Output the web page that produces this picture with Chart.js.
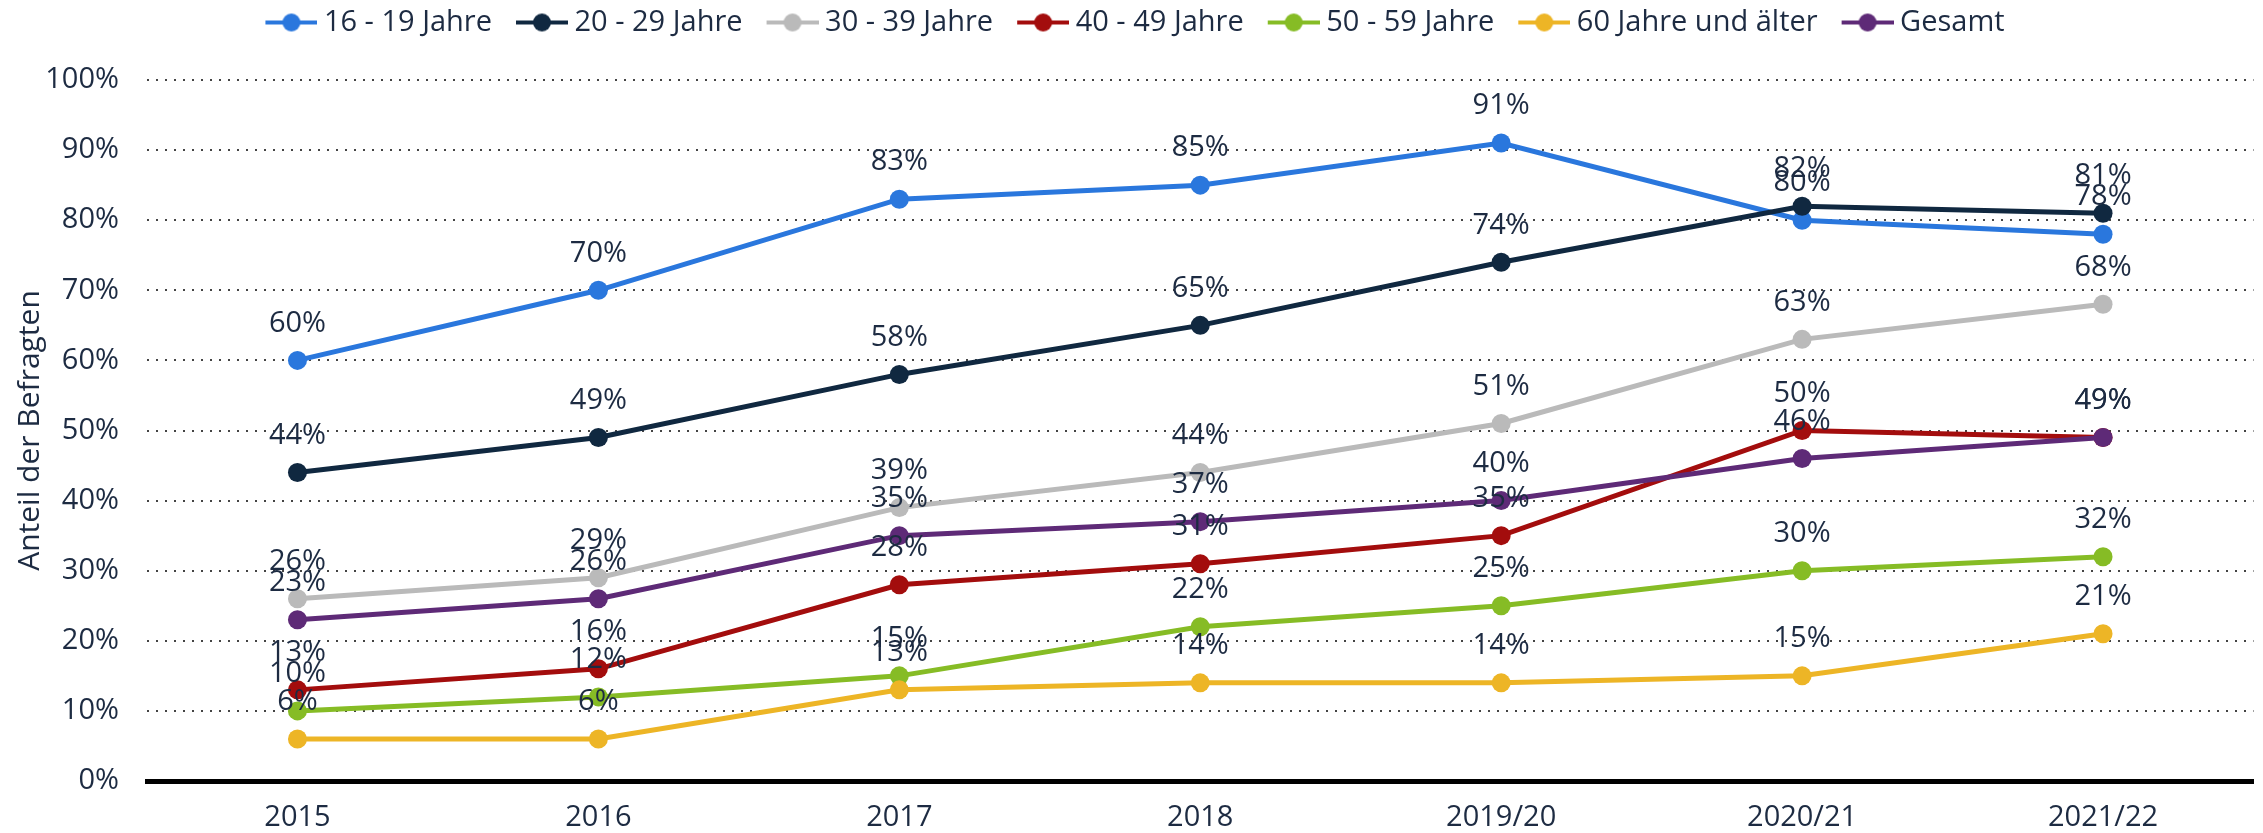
<!DOCTYPE html>
<html lang="de">
<head>
<meta charset="utf-8">
<title>Anteil der Befragten nach Altersgruppe</title>
<script src="https://cdn.jsdelivr.net/npm/chart.js@4/dist/chart.umd.min.js"></script>
<style>
  html, body { margin: 0; padding: 0; background: #fff; }
  #wrap { width: 2263px; height: 833px; }
</style>
</head>
<body>
<div id="wrap"><canvas id="chart" width="2263" height="833"></canvas></div>
<script>
/* Anteil der Befragten nach Altersgruppe, 2015 – 2021/22 */

var CATEGORIES = ['2015', '2016', '2017', '2018', '2019/20', '2020/21', '2021/22'];

var SERIES_NAMES = ['16 - 19 Jahre', '20 - 29 Jahre', '30 - 39 Jahre', '40 - 49 Jahre',
                    '50 - 59 Jahre', '60 Jahre und älter', 'Gesamt'];

var AGE_16_19 = [60, 70, 83, 85, 91, 80, 78];
var AGE_20_29 = [44, 49, 58, 65, 74, 82, 81];
var AGE_30_39 = [26, 29, 39, 44, 51, 63, 68];
var AGE_40_49 = [13, 16, 28, 31, 35, 50, 49];
var AGE_50_59 = [10, 12, 15, 22, 25, 30, 32];
var AGE_60_PLUS = [6, 6, 13, 14, 14, 15, 21];
var TOTAL = [23, 26, 35, 37, 40, 46, 49];

var Y_TICKS = ['0%', '10%', '20%', '30%', '40%', '50%', '60%', '70%', '80%', '90%', '100%'];

(function () {
  'use strict';

  var TEXT = '#1d2b42';
  var FONT = '"Open Sans", "DejaVu Sans", sans-serif';
  var FONT_SIZE = 29;
  var COLORS = ['#2a77dd', '#102840', '#bababa', '#a30d0d', '#86bc25', '#edb526', '#5e2a77'];
  var VALUES = [AGE_16_19, AGE_20_29, AGE_30_39, AGE_40_49, AGE_50_59, AGE_60_PLUS, TOTAL];

  Chart.defaults.font.family = FONT;
  Chart.defaults.color = TEXT;

  // legend marker: short line with a dot, left part of the canvas stays empty
  function legendMarker(color) {
    var c = document.createElement('canvas');
    c.width = 76;
    c.height = 24;
    var g = c.getContext('2d');
    g.strokeStyle = color;
    g.lineWidth = 4;
    g.beginPath();
    g.moveTo(24, 12);
    g.lineTo(76, 12);
    g.stroke();
    g.fillStyle = color;
    g.beginPath();
    g.arc(50, 12, 9, 0, Math.PI * 2);
    g.fill();
    return c;
  }

  var markers = COLORS.map(legendMarker);

  var datasets = VALUES.map(function (vals, i) {
    return {
      label: SERIES_NAMES[i],
      data: vals,
      borderColor: COLORS[i],
      backgroundColor: COLORS[i],
      borderWidth: 5,
      pointRadius: 9.5,
      pointBorderWidth: 0,
      pointBackgroundColor: COLORS[i],
      tension: 0,
      fill: false,
      order: -i
    };
  });

  var valueLabels = {
    id: 'valueLabels',
    afterDatasetsDraw: function (chart) {
      var ctx = chart.ctx;
      ctx.save();
      ctx.font = FONT_SIZE + 'px ' + FONT;
      ctx.fillStyle = TEXT;
      ctx.textAlign = 'center';
      ctx.textBaseline = 'middle';
      chart.data.datasets.forEach(function (ds, i) {
        var meta = chart.getDatasetMeta(i);
        meta.data.forEach(function (pt, j) {
          ctx.fillText(ds.data[j] + '%', pt.x, pt.y - 37);
        });
      });
      ctx.restore();
    }
  };

  var legendHeight = {
    id: 'legendHeight',
    beforeLayout: function (chart) {
      var lg = chart.legend;
      if (!lg || lg._fixed) return;
      var fit = lg.fit;
      lg.fit = function () {
        fit.call(this);
        this.height = 80;
      };
      lg._fixed = true;
    }
  };

  new Chart(document.getElementById('chart'), {
    type: 'line',
    data: { labels: CATEGORIES, datasets: datasets },
    plugins: [legendHeight, valueLabels],
    options: {
      responsive: false,
      animation: false,
      events: [],
      layout: { padding: { left: 0, right: 9, top: 0, bottom: 0 } },
      plugins: {
        tooltip: { enabled: false },
        legend: {
          position: 'top',
          align: 'center',
          labels: {
            usePointStyle: true,
            pointStyleWidth: 60,
            padding: 8,
            color: TEXT,
            font: { size: FONT_SIZE },
            generateLabels: function (chart) {
              return chart.data.datasets.map(function (ds, i) {
                return {
                  text: ds.label,
                  fillStyle: COLORS[i],
                  strokeStyle: COLORS[i],
                  lineWidth: 0,
                  pointStyle: markers[i],
                  hidden: false,
                  datasetIndex: i,
                  fontColor: TEXT
                };
              });
            }
          }
        }
      },
      scales: {
        x: {
          offset: true,
          grid: { display: false, drawTicks: false },
          border: { display: true, color: '#000', width: 5 },
          ticks: { color: TEXT, font: { size: FONT_SIZE }, padding: 19 },
          afterFit: function (scale) { scale.height = 52; }
        },
        y: {
          min: 0,
          max: 100,
          ticks: {
            stepSize: 10,
            padding: 28,
            color: TEXT,
            font: { size: FONT_SIZE },
            callback: function (v) { return Y_TICKS[Math.round(v / 10)]; }
          },
          grid: {
            drawTicks: false,
            color: '#444',
            lineWidth: 2
          },
          border: { display: false, dash: [2, 7] },
          title: {
            display: true,
            text: 'Anteil der Befragten',
            color: TEXT,
            font: { size: 30 },
            padding: { top: 12, bottom: 0 }
          },
          afterFit: function (scale) { scale.width = 147; }
        }
      }
    }
  });
}());
</script>
</body>
</html>
